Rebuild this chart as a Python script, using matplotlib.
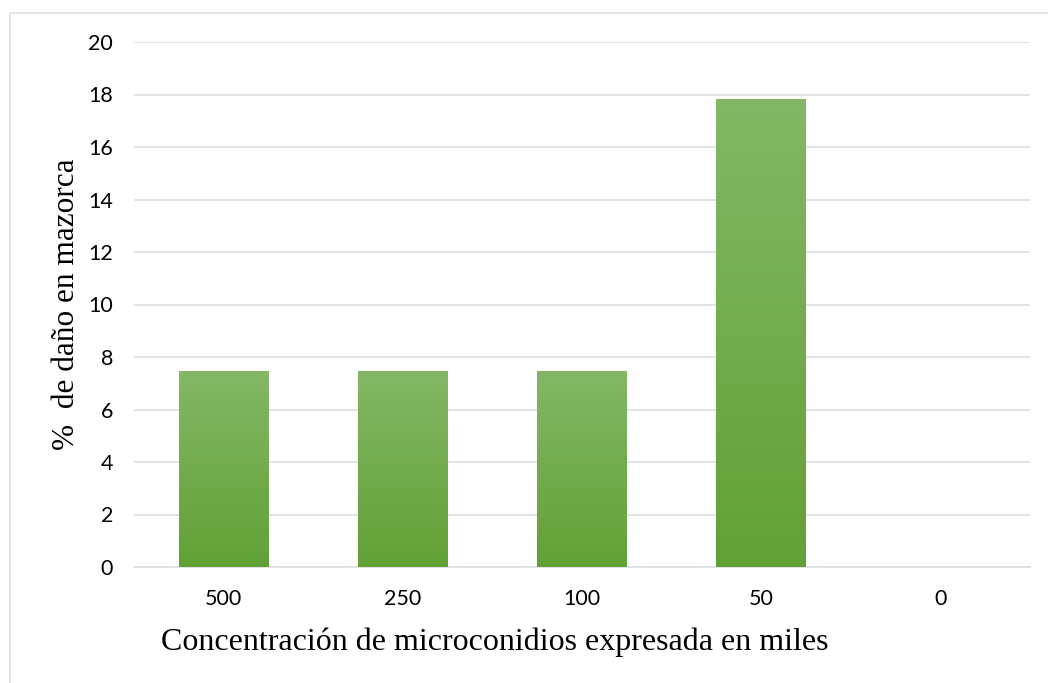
import numpy as np
import matplotlib.pyplot as plt
from matplotlib.patches import Rectangle

categories = ["500", "250", "100", "50", "0"]
values = [7.45, 7.45, 7.45, 17.8, 0.0]
yticks = [0, 2, 4, 6, 8, 10, 12, 14, 16, 18, 20]

fig = plt.figure(figsize=(10.48, 6.83), dpi=100)
ax = fig.add_axes([134 / 1048, 1 - 567 / 683, 896 / 1048, 525 / 683])

x = np.arange(len(categories))
width = 0.5

# vertical green gradient for each bar
grad = np.linspace(0, 1, 256).reshape(-1, 1)
top = np.array([0.52, 0.72, 0.40])
bot = np.array([0.38, 0.63, 0.21])
img = (bot + (top - bot) * grad[..., None]).reshape(256, 1, 3)
for xi, v in zip(x, values):
    if v <= 0:
        continue
    ax.imshow(img, extent=(xi - width / 2, xi + width / 2, 0, v), origin="lower",
              aspect="auto", zorder=3, interpolation="bilinear")
ax.set_xlim(-0.5, len(categories) - 0.5)
ax.set_ylim(0, 20)

ax.set_yticks(yticks)
ax.set_xticks(x)
ax.set_xticklabels(categories)
ax.grid(axis="y", color="#DCDEE2", linewidth=1.2, zorder=0)
ax.set_axisbelow(True)
for s in ["left", "right", "top"]:
    ax.spines[s].set_visible(False)
ax.spines["bottom"].set_color("#DCDEE2")
ax.spines["bottom"].set_linewidth(1.2)
ax.tick_params(length=0, labelsize=15.5, colors="black")
ax.tick_params(axis="x", pad=16)
ax.tick_params(axis="y", pad=15)
for lab in ax.get_xticklabels() + ax.get_yticklabels():
    lab.set_fontfamily("Lato")

ax.set_xlabel("Concentración de microconidios expresada en miles",
              fontfamily="Liberation Serif", fontsize=23, labelpad=10)
ax.xaxis.set_label_coords(0.403, -0.115)
ax.set_ylabel("%  de daño en mazorca", fontfamily="Liberation Serif",
              fontsize=22.5, labelpad=5)

# chart area outline
fig.patches.append(Rectangle((10 / 1048, -0.01), 1.1, 1 - 13 / 683 + 0.01,
                             transform=fig.transFigure, fill=False,
                             edgecolor="#DCDEE2", linewidth=1.2))

fig.savefig("out.png", dpi=100)
